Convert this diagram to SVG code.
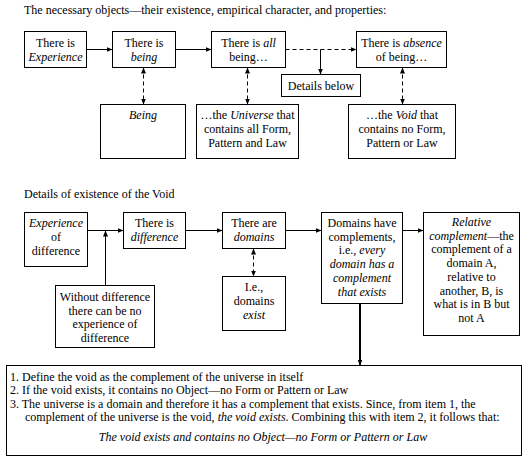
<svg xmlns="http://www.w3.org/2000/svg" width="526" height="460" viewBox="0 0 526 460">
<defs>
<marker id="ah" viewBox="0 0 6 6" refX="6" refY="3" markerWidth="6" markerHeight="6" markerUnits="userSpaceOnUse" orient="auto-start-reverse"><path d="M0,0.5 L6,3 L0,5.5 z" fill="#000"/></marker>
<style>
text{font-family:"Liberation Serif","Times New Roman",serif;font-size:12px;fill:#000}
.c{text-anchor:middle}
.i{font-style:italic}
rect{fill:#fff;stroke:#000;stroke-width:1}
.ln{stroke:#000;stroke-width:1;fill:none}
.d{stroke-dasharray:4 3}
.thick{stroke-width:2}
</style>
</defs>
<rect x="0" y="0" width="526" height="460" style="stroke:none"/>
<text x="24" y="14">The necessary objects—their existence, empirical character, and properties:</text>
<text x="24" y="198">Details of existence of the Void</text>

<g id="connectors">
<line class="ln" x1="86.5" y1="49.5" x2="112.5" y2="49.5" marker-end="url(#ah)"/>
<line class="ln" x1="175.5" y1="49.5" x2="211.5" y2="49.5" marker-end="url(#ah)"/>
<line class="ln d" x1="285.5" y1="49.5" x2="356.5" y2="49.5" marker-end="url(#ah)"/>
<line class="ln" x1="320.5" y1="49.5" x2="320.5" y2="74.5" marker-end="url(#ah)"/>
<line class="ln d" x1="143.5" y1="67.5" x2="143.5" y2="104.5" marker-start="url(#ah)" marker-end="url(#ah)"/>
<line class="ln d" x1="247.5" y1="67.5" x2="247.5" y2="104.5" marker-start="url(#ah)" marker-end="url(#ah)"/>
<line class="ln d" x1="402.5" y1="67.5" x2="402.5" y2="104.5" marker-start="url(#ah)" marker-end="url(#ah)"/>
<line class="ln" x1="87.5" y1="230.5" x2="123.5" y2="230.5" marker-end="url(#ah)"/>
<line class="ln" x1="105.5" y1="285.5" x2="105.5" y2="230.5" marker-end="url(#ah)"/>
<line class="ln" x1="185.5" y1="230.5" x2="222.5" y2="230.5" marker-end="url(#ah)"/>
<line class="ln d" x1="253.5" y1="248.5" x2="253.5" y2="276.5" marker-start="url(#ah)" marker-end="url(#ah)"/>
<line class="ln" x1="285.5" y1="230.5" x2="321.5" y2="230.5" marker-end="url(#ah)"/>
<line class="ln" x1="402.5" y1="230.5" x2="423.5" y2="230.5" marker-end="url(#ah)"/>
<line class="ln thick" x1="360" y1="303.5" x2="360" y2="365.5" marker-end="url(#ah)"/>
</g>

<g id="n1"><rect x="24.5" y="31.5" width="62" height="36"/>
<text class="c" x="55.5" y="47">There is</text><text class="c i" x="55.5" y="60.5">Experience</text></g>
<g id="n2"><rect x="112.5" y="31.5" width="63" height="36"/>
<text class="c" x="144" y="47">There is</text><text class="c i" x="144" y="60.5">being</text></g>
<g id="n3"><rect x="211.5" y="31.5" width="74" height="36"/>
<text class="c" x="248.5" y="47">There is <tspan class="i">all</tspan></text><text class="c" x="248.5" y="60.5">being…</text></g>
<g id="n4"><rect x="356.5" y="31.5" width="90" height="36"/>
<text class="c" x="401.5" y="47">There is <tspan class="i">absence</tspan></text><text class="c" x="401.5" y="60.5">of being…</text></g>
<g id="n5"><rect x="281.5" y="74.5" width="79" height="22"/>
<text class="c" x="321" y="89.5">Details below</text></g>
<g id="n6"><rect x="100.5" y="104.5" width="85" height="54"/>
<text class="c i" x="143" y="119">Being</text></g>
<g id="n7"><rect x="196.5" y="104.5" width="102" height="54"/>
<text class="c" x="247.5" y="119">…the <tspan class="i">Universe</tspan> that</text>
<text class="c" x="247.5" y="133">contains all Form,</text>
<text class="c" x="247.5" y="147">Pattern and Law</text></g>
<g id="n8"><rect x="348.5" y="104.5" width="107" height="54"/>
<text class="c" x="402" y="119">…the <tspan class="i">Void</tspan> that</text>
<text class="c" x="402" y="133">contains no Form,</text>
<text class="c" x="402" y="147">Pattern or Law</text></g>

<g id="m1"><rect x="24.5" y="212.5" width="63" height="54"/>
<text class="c i" x="56" y="227">Experience</text><text class="c" x="56" y="240.7">of</text><text class="c" x="56" y="254.5">difference</text></g>
<g id="m2"><rect x="123.5" y="212.5" width="62" height="36"/>
<text class="c" x="154.5" y="227">There is</text><text class="c i" x="154.5" y="240.7">difference</text></g>
<g id="m3"><rect x="222.5" y="212.5" width="63" height="36"/>
<text class="c" x="254" y="227">There are</text><text class="c i" x="254" y="240.7">domains</text></g>
<g id="m4"><rect x="222.5" y="276.5" width="63" height="54"/>
<text class="c" x="254" y="291">I.e.,</text><text class="c" x="254" y="305">domains</text><text class="c i" x="254" y="319">exist</text></g>
<g id="m5"><rect x="55.5" y="285.5" width="99" height="62"/>
<text class="c" x="105" y="301">Without difference</text><text class="c" x="105" y="314.5">there can be no</text><text class="c" x="105" y="328">experience of</text><text class="c" x="105" y="341.5">difference</text></g>
<g id="m6"><rect x="321.5" y="212.5" width="81" height="91"/>
<text class="c" x="362" y="227">Domains have</text>
<text class="c" x="362" y="240.7">complements,</text>
<text class="c" x="362" y="254.4">i.e., <tspan class="i">every</tspan></text>
<text class="c i" x="362" y="268.1">domain has a</text>
<text class="c i" x="362" y="281.8">complement</text>
<text class="c i" x="362" y="295.5">that exists</text></g>
<g id="m7"><rect x="423.5" y="212.5" width="96" height="123"/>
<text class="c i" x="471.5" y="226">Relative</text>
<text class="c" x="471.5" y="239.7"><tspan class="i">complement</tspan>—the</text>
<text class="c" x="471.5" y="253.4">complement of a</text>
<text class="c" x="471.5" y="267.1">domain A,</text>
<text class="c" x="471.5" y="280.8">relative to</text>
<text class="c" x="471.5" y="294.5">another, B, is</text>
<text class="c" x="471.5" y="308.2">what is in B but</text>
<text class="c" x="471.5" y="321.9">not A</text></g>
<g id="m8"><rect x="6.5" y="365.5" width="515" height="90"/>
<text x="10" y="380.7">1. Define the void as the complement of the universe in itself</text>
<text x="10" y="394.2">2. If the void exists, it contains no Object—no Form or Pattern or Law</text>
<text x="10" y="407.7">3. The universe is a domain and therefore it has a complement that exists. Since, from item 1, the</text>
<text x="25" y="421.2">complement of the universe is the void, <tspan class="i">the void exists</tspan>. Combining this with item 2, it follows that:</text>
<text class="c i" x="263" y="441">The void exists and contains no Object—no Form or Pattern or Law</text></g>
</svg>
